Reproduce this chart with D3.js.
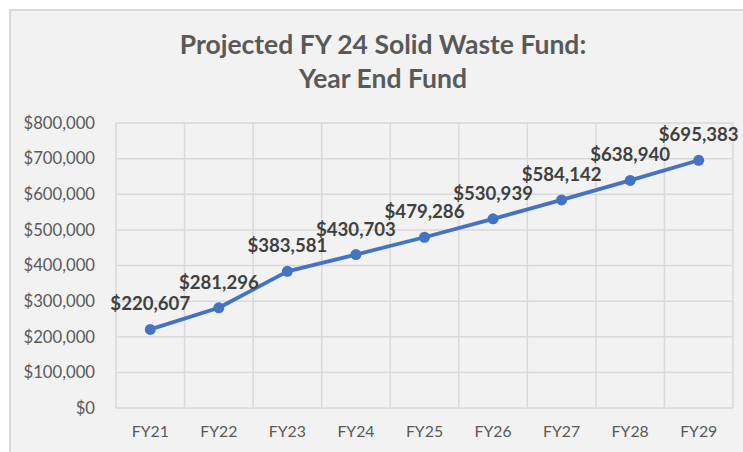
<!DOCTYPE html>
<html lang="en">
<head>
    <meta charset="UTF-8">
    <title>Projected FY 24 Solid Waste Fund</title>
    <script src="https://d3js.org/d3.v7.min.js"></script>
    <style>
        body {
            margin: 0;
            background-color: #ffffff;
            font-family: Lato, "Open Sans", sans-serif;
        }
        svg {
            display: block;
        }
    </style>
</head>
<body>
    <div id="chart"></div>

    <script>
        // Chart data
        const years = ["FY21", "FY22", "FY23", "FY24", "FY25", "FY26", "FY27", "FY28", "FY29"];
        const yearEndFund = [220607, 281296, 383581, 430703, 479286, 530939, 584142, 638940, 695383];
        const yTicks = [0, 100000, 200000, 300000, 400000, 500000, 600000, 700000, 800000];
        const titleLines = ["Projected FY 24 Solid Waste Fund:", "Year End Fund"];

        const width = 743;
        const height = 452;
        const margin = { top: 123, right: 10, bottom: 44, left: 116 };

        const svg = d3.select("#chart")
            .append("svg")
            .attr("width", width)
            .attr("height", height);

        // Chart area background (runs past the window edge like the original)
        svg.append("rect")
            .attr("x", 10)
            .attr("y", 10)
            .attr("width", width + 20)
            .attr("height", height + 20)
            .style("fill", "#f2f2f2")
            .style("stroke", "#d9d9d9")
            .style("stroke-width", 2);

        // Title
        svg.append("text")
            .attr("x", 383)
            .attr("y", 54)
            .attr("text-anchor", "middle")
            .style("font-size", "26.5px")
            .style("font-weight", "bold")
            .style("fill", "#595959")
            .selectAll("tspan")
            .data(titleLines)
            .enter()
            .append("tspan")
            .attr("x", 383)
            .attr("dy", (d, i) => i === 0 ? 0 : 34)
            .text(d => d);

        const x = d3.scaleBand()
            .domain(years)
            .range([margin.left, width - margin.right])
            .paddingInner(0)
            .paddingOuter(0);

        const y = d3.scaleLinear()
            .domain([0, 800000])
            .range([height - margin.bottom, margin.top]);

        const grid = svg.append("g");

        // horizontal gridlines
        grid.selectAll(".hgrid")
            .data(yTicks)
            .enter()
            .append("line")
            .attr("x1", margin.left)
            .attr("x2", width - margin.right)
            .attr("y1", d => y(d))
            .attr("y2", d => y(d))
            .style("stroke", "#d9d9d9")
            .style("stroke-width", 1.5);

        // vertical gridlines at category boundaries
        const bounds = years.map(d => x(d)).concat([x(years[years.length - 1]) + x.bandwidth()]);
        grid.selectAll(".vgrid")
            .data(bounds)
            .enter()
            .append("line")
            .attr("x1", d => d)
            .attr("x2", d => d)
            .attr("y1", y(0))
            .attr("y2", y(800000))
            .style("stroke", "#d9d9d9")
            .style("stroke-width", 1.5);

        // y axis labels
        const yAxis = d3.axisLeft(y)
            .tickValues(yTicks)
            .tickSize(0)
            .tickPadding(21)
            .tickFormat(d => "$" + d3.format(",")(d));

        svg.append("g")
            .attr("transform", `translate(${margin.left},0)`)
            .call(yAxis)
            .call(g => g.select(".domain").remove())
            .selectAll("text")
            .style("font-family", "Lato, sans-serif")
            .style("font-size", "16.7px")
            .style("fill", "#595959");

        // x axis labels
        const xAxis = d3.axisBottom(x)
            .tickSize(0)
            .tickPadding(18);

        svg.append("g")
            .attr("transform", `translate(0,${y(0)})`)
            .call(xAxis)
            .call(g => g.select(".domain").remove())
            .selectAll("text")
            .style("font-family", "Lato, sans-serif")
            .style("font-size", "15.8px")
            .style("fill", "#595959");

        const cx = d => x(d) + x.bandwidth() / 2;

        // line
        const line = d3.line()
            .x((d, i) => cx(years[i]))
            .y(d => y(d));

        svg.append("path")
            .datum(yearEndFund)
            .attr("d", line)
            .style("fill", "none")
            .style("stroke", "#4472c4")
            .style("stroke-width", 3.8)
            .style("stroke-linejoin", "round");

        // markers
        svg.selectAll(".marker")
            .data(yearEndFund)
            .enter()
            .append("circle")
            .attr("cx", (d, i) => cx(years[i]))
            .attr("cy", d => y(d))
            .attr("r", 5.5)
            .style("fill", "#4472c4");

        // data labels
        svg.selectAll(".label")
            .data(yearEndFund)
            .enter()
            .append("text")
            .attr("x", (d, i) => cx(years[i]))
            .attr("y", d => y(d) - 19)
            .attr("text-anchor", "middle")
            .style("font-size", "18.6px")
            .style("font-weight", "bold")
            .style("fill", "#404040")
            .text(d => "$" + d3.format(",")(d));
    </script>
</body>
</html>
